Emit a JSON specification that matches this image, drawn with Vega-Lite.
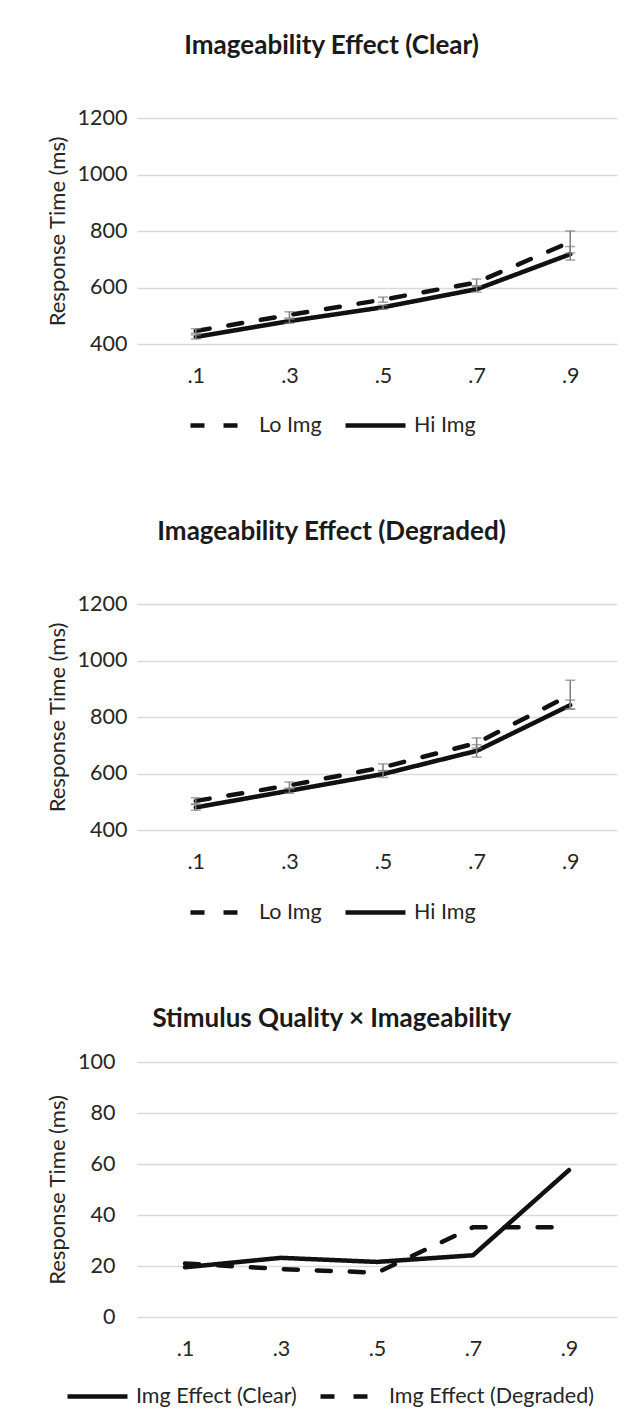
{
  "$schema": "https://vega.github.io/schema/vega-lite/v6.json",
  "padding": {"left": 46, "top": 33, "right": 22, "bottom": 10},
  "background": "white",
  "datasets": {
    "clear": [
      {"q": ".1", "series": "Lo Img", "rt": 446, "lo": 438, "hi": 454},
      {"q": ".3", "series": "Lo Img", "rt": 503, "lo": 492, "hi": 514},
      {"q": ".5", "series": "Lo Img", "rt": 557, "lo": 548, "hi": 566},
      {"q": ".7", "series": "Lo Img", "rt": 618, "lo": 606, "hi": 630},
      {"q": ".9", "series": "Lo Img", "rt": 761, "lo": 722, "hi": 800},
      {"q": ".1", "series": "Hi Img", "rt": 425, "lo": 418, "hi": 432},
      {"q": ".3", "series": "Hi Img", "rt": 481, "lo": 474, "hi": 488},
      {"q": ".5", "series": "Hi Img", "rt": 530, "lo": 523, "hi": 537},
      {"q": ".7", "series": "Hi Img", "rt": 594, "lo": 584, "hi": 604},
      {"q": ".9", "series": "Hi Img", "rt": 718, "lo": 697, "hi": 745}
    ],
    "degraded": [
      {"q": ".1", "series": "Lo Img", "rt": 503, "lo": 492, "hi": 514},
      {"q": ".3", "series": "Lo Img", "rt": 558, "lo": 546, "hi": 570},
      {"q": ".5", "series": "Lo Img", "rt": 622, "lo": 610, "hi": 634},
      {"q": ".7", "series": "Lo Img", "rt": 708, "lo": 690, "hi": 726},
      {"q": ".9", "series": "Lo Img", "rt": 878, "lo": 828, "hi": 930},
      {"q": ".1", "series": "Hi Img", "rt": 480, "lo": 470, "hi": 490},
      {"q": ".3", "series": "Hi Img", "rt": 539, "lo": 530, "hi": 548},
      {"q": ".5", "series": "Hi Img", "rt": 598, "lo": 586, "hi": 610},
      {"q": ".7", "series": "Hi Img", "rt": 680, "lo": 658, "hi": 702},
      {"q": ".9", "series": "Hi Img", "rt": 842, "lo": 828, "hi": 860}
    ],
    "interaction": [
      {"q": ".1", "series": "Img Effect (Clear)", "rt": 19.5},
      {"q": ".3", "series": "Img Effect (Clear)", "rt": 23.2},
      {"q": ".5", "series": "Img Effect (Clear)", "rt": 21.6},
      {"q": ".7", "series": "Img Effect (Clear)", "rt": 24.2},
      {"q": ".9", "series": "Img Effect (Clear)", "rt": 57.6},
      {"q": ".1", "series": "Img Effect (Degraded)", "rt": 21.0},
      {"q": ".3", "series": "Img Effect (Degraded)", "rt": 18.8},
      {"q": ".5", "series": "Img Effect (Degraded)", "rt": 17.4},
      {"q": ".7", "series": "Img Effect (Degraded)", "rt": 35.2},
      {"q": ".9", "series": "Img Effect (Degraded)", "rt": 35.2}
    ]
  },
  "vconcat": [
    {
      "width": 480,
      "height": 226,
      "title": {"text": "Imageability Effect (Clear)", "offset": 48},
      "data": {"name": "clear"},
      "encoding": {
        "x": {"field": "q", "type": "ordinal", "title": null,
              "scale": {"type": "point", "padding": 0.564, "align": 0.557}}
      },
      "layer": [
        {
          "mark": {"type": "line", "strokeWidth": 4.5, "color": "#111111", "strokeCap": "round"},
          "encoding": {
            "y": {"field": "rt", "type": "quantitative", "title": "Response Time (ms)",
                  "scale": {"domain": [400, 1200]},
                  "axis": {"values": [400, 600, 800, 1000, 1200], "format": "d", "labelPadding": 10}},
            "strokeDash": {"field": "series", "type": "nominal",
                  "scale": {"domain": ["Lo Img", "Hi Img"], "range": [[14, 19], [1, 0]]},
                  "legend": {"title": null, "orient": "none", "legendX": 51, "legendY": 275}}
          }
        },
        {
          "mark": {"type": "errorbar", "ticks": {"size": 10, "thickness": 1.5, "color": "#7f7f7f"}, "rule": {"strokeWidth": 1.5, "color": "#7f7f7f"}},
          "encoding": {
            "y": {"field": "lo", "type": "quantitative", "title": "Response Time (ms)"},
            "y2": {"field": "hi"}
          }
        }
      ]
    },
    {
      "width": 480,
      "height": 226,
      "title": {"text": "Imageability Effect (Degraded)", "offset": 48},
      "data": {"name": "degraded"},
      "encoding": {
        "x": {"field": "q", "type": "ordinal", "title": null,
              "scale": {"type": "point", "padding": 0.564, "align": 0.557}}
      },
      "layer": [
        {
          "mark": {"type": "line", "strokeWidth": 4.5, "color": "#111111", "strokeCap": "round"},
          "encoding": {
            "y": {"field": "rt", "type": "quantitative", "title": "Response Time (ms)",
                  "scale": {"domain": [400, 1200]},
                  "axis": {"values": [400, 600, 800, 1000, 1200], "format": "d", "labelPadding": 10}},
            "strokeDash": {"field": "series", "type": "nominal",
                  "scale": {"domain": ["Lo Img", "Hi Img"], "range": [[14, 19], [1, 0]]},
                  "legend": {"title": null, "orient": "none", "legendX": 51, "legendY": 276}}
          }
        },
        {
          "mark": {"type": "errorbar", "ticks": {"size": 10, "thickness": 1.5, "color": "#7f7f7f"}, "rule": {"strokeWidth": 1.5, "color": "#7f7f7f"}},
          "encoding": {
            "y": {"field": "lo", "type": "quantitative", "title": "Response Time (ms)"},
            "y2": {"field": "hi"}
          }
        }
      ]
    },
    {
      "width": 480,
      "height": 255,
      "title": {"text": "Stimulus Quality × Imageability", "offset": 19},
      "data": {"name": "interaction"},
      "mark": {"type": "line", "strokeWidth": 4.5, "color": "#111111", "strokeCap": "round"},
      "encoding": {
        "x": {"field": "q", "type": "ordinal", "title": null},
        "y": {"field": "rt", "type": "quantitative", "title": "Response Time (ms)",
              "scale": {"domain": [0, 100]},
              "axis": {"values": [0, 20, 40, 60, 80, 100], "format": "d"}},
        "strokeDash": {"field": "series", "type": "nominal",
              "scale": {"domain": ["Img Effect (Clear)", "Img Effect (Degraded)"], "range": [[1, 0], [14, 19]]},
              "legend": {"title": null, "orient": "none", "legendX": -72, "legendY": 302}}
      }
    }
  ],
  "spacing": 83,
  "resolve": {
    "scale": {"strokeDash": "independent", "y": "independent", "x": "independent"},
    "legend": {"strokeDash": "independent"}
  },
  "config": {
    "font": "Lato",
    "view": {"stroke": null},
    "title": {"fontSize": 26, "fontWeight": "bold", "font": "Lato", "color": "#1a1a1a", "anchor": "middle", "frame": "bounds"},
    "axis": {
      "labelFontSize": 21.5, "labelFont": "Lato", "labelColor": "#262626",
      "titleFontSize": 22, "titleFont": "Lato", "titleFontWeight": "normal", "titleColor": "#262626",
      "domain": false, "ticks": false, "tickSize": 0
    },
    "axisX": {"labelAngle": 0, "labelPadding": 21, "grid": false},
    "axisY": {"labelPadding": 22, "titlePadding": 8, "grid": true, "gridColor": "#d9d9d9", "gridWidth": 1.5},
    "legend": {
      "direction": "horizontal",
      "symbolType": "stroke", "symbolSize": 3600, "symbolStrokeWidth": 4.5, "symbolStrokeColor": "#111111",
      "labelFontSize": 21.5, "labelFont": "Lato", "labelColor": "#262626", "labelLimit": 300,
      "labelOffset": 6, "columnPadding": 14
    }
  }
}
